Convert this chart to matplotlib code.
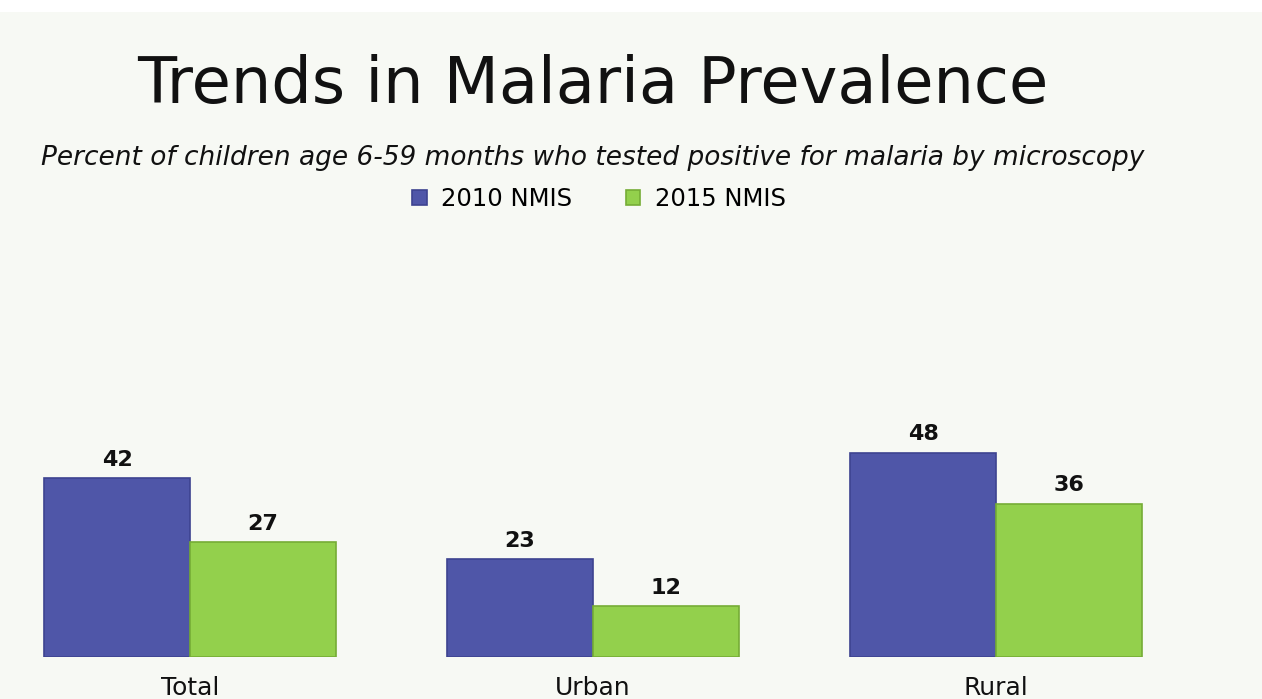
import matplotlib.pyplot as plt
import numpy as np
from matplotlib.patches import Rectangle

# Werte der Grafik
kategorien = ["Total", "Urban", "Rural"]
serien = ["2010 NMIS", "2015 NMIS"]
werte_2010 = [42, 23, 48]
werte_2015 = [27, 12, 36]

blau = "#4f56a8"
gruen = "#93d04c"
hintergrund = "#f7f9f4"

fig = plt.figure(figsize=(12.62, 6.99), dpi=100)
fig.patch.set_facecolor("white")
# heller Hintergrund unter dem weissen Streifen oben
fig.patches.append(Rectangle((0, 0), 1, 687 / 699, transform=fig.transFigure,
                             facecolor=hintergrund, edgecolor="none", zorder=-1))

ax = fig.add_axes([0, 42 / 699, 1, 426 / 699])
ax.set_facecolor("none")

x = np.arange(len(kategorien))
breite = 0.362
b1 = ax.bar(x - breite / 2, werte_2010, breite, color=blau, edgecolor="#3d4390",
            linewidth=1.2, label=serien[0])
b2 = ax.bar(x + breite / 2, werte_2015, breite, color=gruen, edgecolor="#76ad36",
            linewidth=1.2, label=serien[1])

for balken in (b1, b2):
    ax.bar_label(balken, padding=6, fontsize=16, fontweight="bold", color="#111111")

ax.set_xlim(-190 / 403, 1072 / 403)
ax.set_ylim(0, 100)
ax.set_xticks(x)
ax.set_xticklabels(kategorien, fontsize=18, color="#111111")
ax.tick_params(axis="x", length=0, pad=14)
ax.set_yticks([])
for s in ax.spines.values():
    s.set_visible(False)

fig.text(0.47, 596 / 699, "Trends in Malaria Prevalence", ha="center", va="baseline",
         fontsize=46, color="#111111")
fig.text(0.4695, 534 / 699,
         "Percent of children age 6-59 months who tested positive for malaria by microscopy",
         ha="center", va="baseline", fontsize=19, style="italic", color="#111111")

fig.legend(handles=[b1, b2], labels=serien, loc="center", bbox_to_anchor=(0.4747, 500 / 699),
           ncol=2, frameon=False, fontsize=17.5, handlelength=0.6, handleheight=0.6,
           handletextpad=0.6, columnspacing=2.2)

fig.savefig("out.png", dpi=100, facecolor=fig.get_facecolor())
